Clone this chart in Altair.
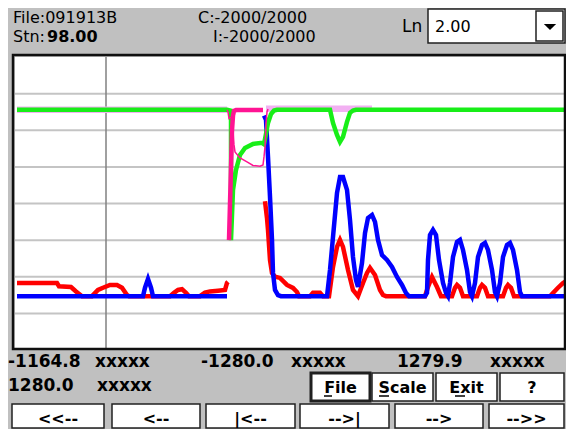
import altair as alt
import pandas as pd

# ---------------- trace data (x = sample position, y = value) ----------------
green_x = [17, 227, 231, 231, 233, 236, 240, 245, 253, 262, 264, 266, 268, 271, 274, 277,
           330, 333, 337, 340, 343, 347, 350, 353, 356, 570]
green_y = [1280, 1280, 1265, -500, 185, 458, 663, 758, 813, 828, 810, 950, 1100, 1220, 1270, 1280,
           1280, 1100, 937, 841, 910, 1114, 1238, 1270, 1280, 1280]

band_x = [17, 227, 266, 372]
band_y = [1280, 1280, 1295, 1295]
band_seg = [0, 0, 1, 1]

pink_x = [229, 230, 231, 232, 233, 234, 236, 263]
pink_y = [-500, 0, 500, 1000, 1200, 1265, 1275, 1275]

loop_x = [227, 228, 229, 230, 232, 233, 234, 235, 240, 247, 253, 260, 263, 264, 265, 265.5, 266, 267, 268]
loop_y = [1280, 1250, 1160, 1170, 1180, 1000, 800, 705, 623, 568, 520, 510, 527, 636, 773, 900, 1100, 1250, 1290]

red_x = [17, 57, 59, 71, 76, 82, 92, 98, 103, 110, 117, 122, 127, 129, 170, 174, 178, 182, 186, 189,
         200, 205, 210, 218, 225, 227, 228,
         265, 267, 268, 270, 272, 275,
         280, 287, 293, 297, 299, 310, 313, 320, 323, 329, 333, 337, 340, 343, 348, 353, 358, 363, 367,
         370, 375, 380, 383, 386, 425, 428, 432, 437, 441, 452, 455, 457, 460, 463, 477, 480, 482, 485,
         488, 503, 506, 508, 511, 514, 550, 553, 558, 563, 570]
red_y = [-1085, -1085, -1130, -1140, -1200, -1265, -1265, -1180, -1150, -1112, -1112, -1150, -1250, -1265,
         -1265, -1220, -1180, -1170, -1220, -1265, -1265, -1215, -1200, -1190, -1180, -1085, -1070,
         30, -200, -361, -770, -950, -1000, -1016, -1112, -1153, -1208, -1265,
         -1265, -1220, -1220, -1265, -1265, -866, -593, -497, -593, -907, -1180, -1265, -1085, -948, -880,
         -976, -1180, -1249, -1265, -1265, -1140, -1003, -1140, -1265, -1265, -1150, -1112, -1150, -1265,
         -1265, -1150, -1112, -1150, -1265, -1265, -1150, -1112, -1150, -1265, -1265, -1221, -1150, -1085,
         -1030]
red_seg = [0] * 27 + [1] * (len(red_x) - 27)

blue_x = [17, 143, 145, 148, 151, 153, 227,
          264, 266, 268, 270, 272, 273, 275, 278,
          281, 327, 330, 333, 337, 340, 343, 347, 350, 353, 356, 358, 362, 365, 368, 372, 375, 378, 382,
          387, 392, 397, 402, 406, 409, 425, 427, 428, 430, 433, 436, 439, 443, 446, 448, 450, 453, 457,
          460, 463, 467, 470, 472, 475, 478, 482, 485, 488, 492, 495, 497, 500, 503, 507, 510, 513, 517,
          520, 522, 570]
blue_y = [-1265, -1265, -1150, -1030, -1150, -1265, -1265,
          1200, 1142, 636, 90, -497, -948, -1180, -1250,
          -1265, -1265, -907, -457, 144, 362, 362, 186, -224, -730, -1044, -1140,
          -812, -403, -197, -156, -252, -497, -703, -770, -866, -1003, -1112, -1221, -1265, -1265, -1221,
          -770, -430, -361, -430, -770, -1085, -1221, -1265, -1085, -730, -525, -497, -634, -907, -1208,
          -1265, -1085, -730, -566, -538, -634, -907, -1208, -1265, -1085, -730, -566, -538, -634, -907,
          -1208, -1265, -1265]
blue_seg = [0] * 7 + [1] * (len(blue_x) - 7)

cursor_x = [106]
grid_values = [-1500, -1000, -500, 0, 500, 1000, 1500]

# ---------------- UI texts (screen layout) ----------------
OX, OY = 15, 57  # view origin in screen pixels

normal_texts = ["File:091913B", "Stn:", "C:-2000/2000", "I:-2000/2000", "Ln", "2.00"]
normal_tx = [13, 13, 198, 213, 402, 435]
normal_ty = [23, 42, 23, 42, 32, 32]
normal_sz = [16, 16, 16, 16, 17, 16]

bold_texts = ["98.00", "-1164.8", "xxxxx", "-1280.0", "xxxxx", "1279.9", "xxxxx", "1280.0", "xxxxx"]
bold_tx = [47, 8, 95, 201, 291, 397, 490, 8, 97]
bold_ty = [42, 367, 367, 367, 367, 367, 367, 391, 391]
bold_sz = [16, 17, 17, 17, 17, 17, 17, 17, 17]

btn_labels = ["File", "Scale", "Exit", "?", "<<--", "<--", "|<--", "-->|", "-->", "-->>"]
btn_x1 = [311, 372, 436, 500, 12, 112, 206, 300, 395, 489]
btn_x2 = [370, 433, 497, 564, 104, 200, 295, 389, 483, 564]
btn_y1 = [373, 373, 373, 373, 404, 404, 404, 404, 404, 404]
btn_y2 = [401, 401, 401, 401, 428, 428, 428, 428, 428, 428]
btn_w = [3, 1.5, 1.5, 1.5, 1.5, 1.5, 1.5, 1.5, 1.5, 1.5]

ul_x1 = [324, 379, 455]
ul_x2 = [332, 389, 465]
ul_y = [396, 396, 396]


def trace(xs, ys, seg=None):
    return pd.DataFrame({"x": xs, "y": ys, "i": list(range(len(xs))),
                         "seg": seg if seg is not None else [0] * len(xs)})


xs = alt.Scale(domain=[15, 564], nice=False, zero=False)
ys = alt.Scale(domain=[-2000, 2000], nice=False, zero=False)


def line(df, color, width):
    return alt.Chart(df).mark_line(color=color, strokeWidth=width, clip=True).encode(
        x=alt.X("x:Q", scale=xs, axis=None),
        y=alt.Y("y:Q", scale=ys, axis=None),
        detail="seg:N",
        order=alt.Order("i:Q"),
    )


grid = alt.Chart(pd.DataFrame({"g": grid_values})).mark_rule(color="#c4c4c4", strokeWidth=2).encode(
    y=alt.Y("g:Q", scale=ys, axis=None)
)
cursor = alt.Chart(pd.DataFrame({"c": cursor_x})).mark_rule(color="#808080", strokeWidth=1.5).encode(
    x=alt.X("c:Q", scale=xs, axis=None)
)

layers = [
    grid,
    cursor,
    line(trace(band_x, band_y, band_seg), "#f2b0f2", 6.5),
    line(trace(red_x, red_y, red_seg), "#ff0000", 4.5),
    line(trace(blue_x, blue_y, blue_seg), "#0000ff", 4.5),
    line(trace(green_x, green_y), "#18ee18", 4.5),
    line(trace(pink_x, pink_y), "#ff1493", 4.5),
    line(trace(loop_x, loop_y), "#ff1493", 1.5),
]

# UI chrome
frame = alt.Chart(pd.DataFrame({"a": [13 - OX], "b": [565 - OX], "c": [55 - OY], "d": [349 - OY]})).mark_rect(
    fillOpacity=0, stroke="#101010", strokeWidth=2.5).encode(
    x=alt.X("a:Q", scale=None, axis=None), x2="b", y=alt.Y("c:Q", scale=None, axis=None), y2="d")

boxes_df = pd.DataFrame({
    "a": [428 - OX, 536 - OX] + [v - OX for v in btn_x1],
    "b": [565 - OX, 563 - OX] + [v - OX for v in btn_x2],
    "c": [9 - OY, 11 - OY] + [v - OY for v in btn_y1],
    "d": [43 - OY, 41 - OY] + [v - OY for v in btn_y2],
    "w": [1.5, 1.5] + btn_w,
})
boxes = alt.Chart(boxes_df).mark_rect(fill="white", stroke="#202020").encode(
    x=alt.X("a:Q", scale=None, axis=None), x2="b", y=alt.Y("c:Q", scale=None, axis=None), y2="d",
    strokeWidth=alt.StrokeWidth("w:Q", scale=None, legend=None))

arrow = alt.Chart(pd.DataFrame({"a": [550 - OX], "c": [27 - OY]})).mark_point(
    shape="M-1,-0.5L1,-0.5L0,0.5Z", size=150, filled=True, color="black", opacity=1).encode(
    x=alt.X("a:Q", scale=None, axis=None), y=alt.Y("c:Q", scale=None, axis=None))

ndf = pd.DataFrame({"t": normal_texts, "a": [v - OX for v in normal_tx], "c": [v - OY for v in normal_ty],
                    "s": normal_sz})
ntext = alt.Chart(ndf).mark_text(align="left", baseline="alphabetic", font="DejaVu Sans", color="black").encode(
    x=alt.X("a:Q", scale=None, axis=None), y=alt.Y("c:Q", scale=None, axis=None),
    text="t:N", size=alt.Size("s:Q", scale=None, legend=None))

bdf = pd.DataFrame({"t": bold_texts, "a": [v - OX for v in bold_tx], "c": [v - OY for v in bold_ty],
                    "s": bold_sz})
btext = alt.Chart(bdf).mark_text(align="left", baseline="alphabetic", font="DejaVu Sans", fontWeight="bold",
                                 color="black").encode(
    x=alt.X("a:Q", scale=None, axis=None), y=alt.Y("c:Q", scale=None, axis=None), text="t:N",
    size=alt.Size("s:Q", scale=None, legend=None))

bl = pd.DataFrame({"t": btn_labels,
                   "a": [(a + b) / 2 - OX for a, b in zip(btn_x1, btn_x2)],
                   "c": [y + 20 - OY for y in btn_y1]})
btnlab = alt.Chart(bl).mark_text(align="center", baseline="alphabetic", font="DejaVu Sans", fontWeight="bold",
                                 fontSize=16, color="black").encode(
    x=alt.X("a:Q", scale=None, axis=None), y=alt.Y("c:Q", scale=None, axis=None), text="t:N")

ul = alt.Chart(pd.DataFrame({"a": [v - OX for v in ul_x1], "b": [v - OX for v in ul_x2],
                             "c": [v - OY for v in ul_y]})).mark_rule(color="black", strokeWidth=1.5).encode(
    x=alt.X("a:Q", scale=None, axis=None), x2="b", y=alt.Y("c:Q", scale=None, axis=None))

chart = alt.layer(*layers, frame, boxes, arrow, ntext, btext, btnlab, ul).properties(
    width=549, height=293,
    autosize=alt.AutoSizeParams(type="none"),
    padding={"left": 7, "top": 49, "right": 2, "bottom": 79},
    background="#c0c0c0",
).configure_view(stroke=None, fill="white")

chart.save("out.html", embed_options={"renderer": "svg", "actions": False})
